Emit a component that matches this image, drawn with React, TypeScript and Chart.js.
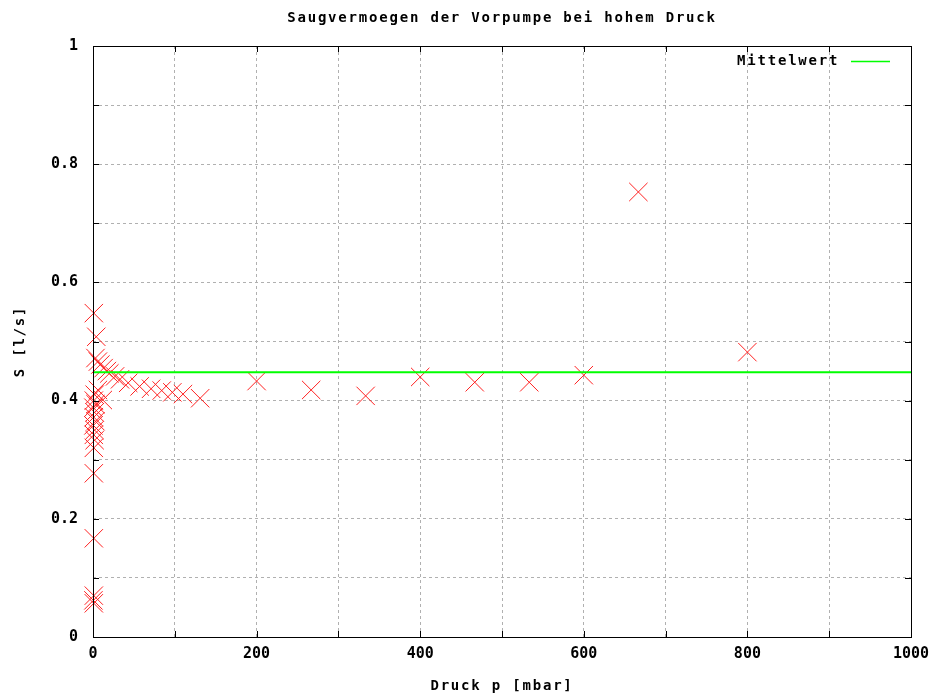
import React, { useEffect, useRef } from "react";
import { Chart, registerables } from "chart.js";

Chart.register(...registerables);

// Pressure p in mbar and pumping speed S in l/s
const pressure: number[] = [
  1, 4,
  3, 6, 9, 13, 17, 20, 27, 33, 43, 57, 71, 84, 97, 110, 131,
  6, 12, 2, 1, 3, 0.5, 2, 1, 3, 0.5, 2, 1, 2, 1, 1, 1, 1, 0.5, 1,
  200, 266.7, 333.3, 400, 466.7, 533.3, 600, 666.7, 800,
];
const speed: number[] = [
  0.548, 0.508,
  0.472, 0.466, 0.461, 0.455, 0.45, 0.446, 0.441, 0.436, 0.43, 0.424, 0.42, 0.417, 0.414, 0.411, 0.404,
  0.418, 0.401, 0.41, 0.4, 0.394, 0.388, 0.38, 0.372, 0.365, 0.358, 0.35, 0.342, 0.333, 0.32, 0.277, 0.167, 0.07, 0.062, 0.057,
  0.433, 0.418, 0.408, 0.44, 0.431, 0.431, 0.443, 0.753, 0.482,
];
const meanRange: number[] = [0, 1000];
const meanValue = 0.448;

const xTicks = [0, 200, 400, 600, 800, 1000];
const yTicks = [0, 0.2, 0.4, 0.6, 0.8, 1];

const TEXT_FONT = 'bold 14px "DejaVu Sans Mono"';

function drawSpaced(ctx: CanvasRenderingContext2D, text: string, x: number, y: number, align: "center" | "left") {
  (ctx as any).letterSpacing = "1.8px";
  const w = ctx.measureText(text).width;
  const startX = align === "center" ? x - w / 2 : x;
  ctx.textAlign = "left";
  ctx.fillText(text, startX, y);
  (ctx as any).letterSpacing = "0px";
}

const framePlugin = {
  id: "frame",
  afterDraw(chart: any) {
    const { ctx, chartArea } = chart;
    const { left, right, top, bottom } = chartArea;
    const xs = chart.scales.x;
    const ys = chart.scales.y;
    ctx.save();
    // border
    ctx.strokeStyle = "#000";
    ctx.lineWidth = 1;
    ctx.setLineDash([]);
    ctx.strokeRect(Math.round(left) + 0.5, Math.round(top) + 0.5, Math.round(right - left), Math.round(bottom - top));
    // inward tick marks on all four sides
    ctx.beginPath();
    for (let v = 0; v <= 1000; v += 100) {
      const px = Math.round(xs.getPixelForValue(v)) + 0.5;
      ctx.moveTo(px, bottom);
      ctx.lineTo(px, bottom - 6);
      ctx.moveTo(px, top);
      ctx.lineTo(px, top + 6);
    }
    for (let i = 0; i <= 10; i++) {
      const py = Math.round(ys.getPixelForValue(i / 10)) + 0.5;
      ctx.moveTo(left, py);
      ctx.lineTo(left + 6, py);
      ctx.moveTo(right, py);
      ctx.lineTo(right - 6, py);
    }
    ctx.stroke();

    // texts
    ctx.fillStyle = "#000";
    ctx.font = TEXT_FONT;
    ctx.textBaseline = "middle";
    drawSpaced(ctx, "Saugvermoegen der Vorpumpe bei hohem Druck", (left + right) / 2, 18, "center");
    drawSpaced(ctx, "Druck p [mbar]", (left + right) / 2, 686, "center");
    ctx.save();
    ctx.translate(20, (top + bottom) / 2);
    ctx.rotate(-Math.PI / 2);
    drawSpaced(ctx, "S [l/s]", 0, 0, "center");
    ctx.restore();

    // legend
    drawSpaced(ctx, "Mittelwert", 737, 61, "left");
    ctx.strokeStyle = "#00ff00";
    ctx.lineWidth = 1.5;
    ctx.beginPath();
    ctx.moveTo(851, 61.5);
    ctx.lineTo(890, 61.5);
    ctx.stroke();
    ctx.restore();
  },
};

export default function App() {
  const ref = useRef<HTMLCanvasElement | null>(null);

  useEffect(() => {
    if (!ref.current) return;
    const points = pressure.map((p, i) => ({ x: p, y: speed[i] }));
    const meanLine = meanRange.map((p) => ({ x: p, y: meanValue }));
    const chart = new Chart(ref.current, {
      type: "scatter",
      data: {
        datasets: [
          {
            label: "Messwerte",
            data: points,
            pointStyle: "crossRot",
            pointRadius: 13,
            pointHoverRadius: 13,
            borderColor: "#ff2020",
            backgroundColor: "#ff2020",
            pointBorderWidth: 1,
            showLine: false,
            clip: false,
            order: 2,
          },
          {
            label: "Mittelwert",
            type: "line",
            data: meanLine,
            borderColor: "#00ff00",
            borderWidth: 2,
            pointRadius: 0,
            showLine: true,
            order: 1,
          },
        ],
      },
      options: {
        responsive: false,
        animation: false,
        events: [],
        layout: { padding: { top: 46, right: 29, left: 0, bottom: 0 } },
        plugins: {
          legend: { display: false },
          title: { display: false },
          tooltip: { enabled: false },
        },
        scales: {
          x: {
            type: "linear",
            min: 0,
            max: 1000,
            afterFit: (s: any) => {
              s.height = 58;
            },
            afterBuildTicks: (s: any) => {
              const t = [];
              for (let v = 0; v <= 1000; v += 100) t.push({ value: v });
              s.ticks = t;
            },
            ticks: {
              autoSkip: false,
              maxRotation: 0,
              padding: 8,
              color: "#000",
              font: { family: '"DejaVu Sans Mono"', size: 15, weight: "bold" },
              callback: (v: any) => (xTicks.includes(Number(v)) ? String(v) : ""),
            },
            grid: {
              color: "#b0b0b0",
              lineWidth: (c: any) => (c.tick && (c.tick.value === 0 || c.tick.value === 1000) ? 0 : 1),
              drawTicks: false,
            },
            border: { display: false, dash: [3, 3] },
          },
          y: {
            type: "linear",
            min: 0,
            max: 1,
            afterFit: (s: any) => {
              s.width = 93;
            },
            afterBuildTicks: (s: any) => {
              const t = [];
              for (let i = 0; i <= 10; i++) t.push({ value: i / 10 });
              s.ticks = t;
            },
            ticks: {
              autoSkip: false,
              padding: 15,
              color: "#000",
              font: { family: '"DejaVu Sans Mono"', size: 15, weight: "bold" },
              callback: (v: any) => {
                const n = Math.round(Number(v) * 10) / 10;
                if (!yTicks.some((t) => Math.abs(t - n) < 1e-6)) return "";
                if (n === 0) return "0";
                if (n === 1) return "1";
                return n.toFixed(1);
              },
            },
            grid: {
              color: "#b0b0b0",
              lineWidth: (c: any) => (c.tick && (c.tick.value === 0 || c.tick.value === 1) ? 0 : 1),
              drawTicks: false,
            },
            border: { display: false, dash: [3, 3] },
          },
        },
      },
      plugins: [framePlugin],
    });
    return () => chart.destroy();
  }, []);

  return (
    <div style={{ position: "fixed", left: 0, top: 0, width: 940, height: 695, background: "#fff" }}>
      <canvas ref={ref} width={940} height={695} />
    </div>
  );
}
